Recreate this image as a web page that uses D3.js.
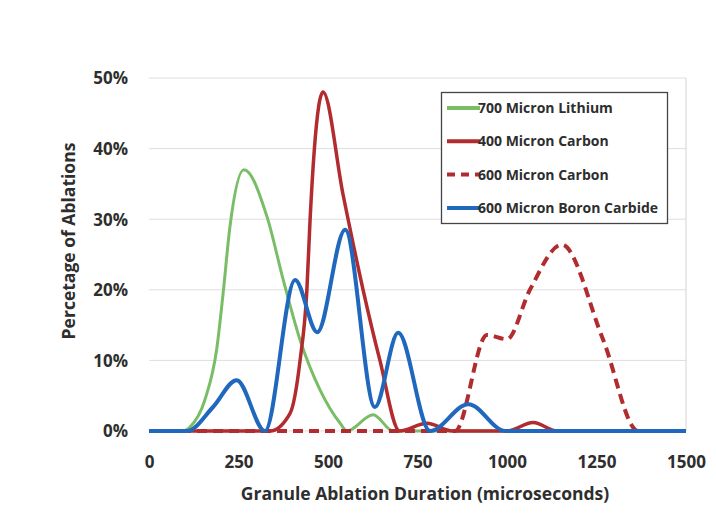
<!DOCTYPE html>
<html>
<head>
<meta charset="utf-8">
<script src="https://cdn.jsdelivr.net/npm/d3@7"></script>
<style>
  body { margin: 0; background: #fff; }
  text { font-family: "Open Sans", Lato, sans-serif; font-weight: bold; fill: #2e2e2e; }
</style>
</head>
<body>
<svg id="chart" width="716" height="527"></svg>
<script>
// values (duration in microseconds, share in %)
const xTicks = [0, 250, 500, 750, 1000, 1250, 1500];
const yTicks = [0, 10, 20, 30, 40, 50];

const lithiumX = [0, 95, 115, 156, 190, 207, 226, 265, 330, 375, 422, 478, 534, 553, 626, 682, 1500];
const lithiumY = [0, 0, 0.6, 4.4, 11.9, 19.5, 28.9, 37, 30.3, 21.4, 12.9, 5.8, 1.1, 0, 2.3, 0, 0];

const carbon400X = [0, 338, 394, 422, 441, 450, 462, 486, 542, 598, 645, 700, 776, 848, 1000, 1073, 1140, 1500];
const carbon400Y = [0, 0, 2.5, 10, 20, 30, 40, 48, 33.5, 20, 10, 0, 1.1, 0, 0, 1.2, 0, 0];

const carbon600X = [0, 855, 944, 1000, 1064, 1153, 1268, 1366, 1500];
const carbon600Y = [0, 0, 13.6, 13, 20, 26.4, 13, 0, 0];

const boronX = [0, 106, 179, 245, 324, 408, 470, 548, 631, 696, 785, 892, 995, 1500];
const boronY = [0, 0, 3.4, 7.2, 0, 21.4, 14, 28.5, 3.4, 13.9, 0, 3.8, 0, 0];

const seriesNames = ["700 Micron Lithium", "400 Micron Carbon", "600 Micron Carbon", "600 Micron Boron Carbide"];

const series = [
  {name: seriesNames[0], xs: lithiumX, ys: lithiumY, color: "#79bd67", width: 3, dash: null},
  {name: seriesNames[1], xs: carbon400X, ys: carbon400Y, color: "#b22b2e", width: 3.5, dash: null},
  {name: seriesNames[2], xs: carbon600X, ys: carbon600Y, color: "#b22b2e", width: 4, dash: "10,6"},
  {name: seriesNames[3], xs: boronX, ys: boronY, color: "#1f68bd", width: 4, dash: null}
];

const svg = d3.select("#chart");

const x = d3.scaleLinear().domain([0, 1500]).range([149, 686]);
const y = d3.scaleLinear().domain([0, 50]).range([431, 78]);

// grid
svg.append("g")
  .selectAll("line")
  .data(yTicks)
  .join("line")
    .attr("x1", x(0))
    .attr("x2", x(1500))
    .attr("y1", d => y(d))
    .attr("y2", d => y(d))
    .style("stroke", "#dedede")
    .style("stroke-width", 1);

svg.append("line")
  .attr("x1", x(1500)).attr("x2", x(1500))
  .attr("y1", y(50)).attr("y2", y(0))
  .style("stroke", "#d4d4d4");

// axes
const yAxis = svg.append("g")
  .attr("transform", `translate(${x(0)},0)`)
  .call(d3.axisLeft(y).tickValues(yTicks).tickFormat(d => d + "%").tickSize(0).tickPadding(21));
yAxis.select(".domain").remove();
yAxis.selectAll("text").style("font-size", "17px").attr("dy", "0.35em");

const xAxis = svg.append("g")
  .attr("transform", `translate(0,${y(0)})`)
  .call(d3.axisBottom(x).tickValues(xTicks).tickFormat(d3.format("d")).tickSize(0).tickPadding(27));
xAxis.select(".domain").remove();
xAxis.selectAll("text").style("font-size", "17px").attr("dy", "0.6em");

svg.append("text")
  .attr("x", 425)
  .attr("y", 500)
  .attr("text-anchor", "middle")
  .style("font-size", "17.5px")
  .text("Granule Ablation Duration (microseconds)");

svg.append("text")
  .attr("transform", "translate(75,241) rotate(-90)")
  .attr("text-anchor", "middle")
  .style("font-size", "17.5px")
  .text("Percetage of Ablations");

// lines
const line = d3.line()
  .x(d => x(d[0]))
  .y(d => y(d[1]))
  .curve(d3.curveMonotoneX);

svg.append("g")
  .selectAll("path")
  .data(series)
  .join("path")
    .attr("d", s => line(d3.zip(s.xs, s.ys)))
    .style("fill", "none")
    .style("stroke", s => s.color)
    .style("stroke-width", s => s.width)
    .style("stroke-dasharray", s => s.dash)
    .style("stroke-linejoin", "round");

// legend
const legend = svg.append("g");
legend.append("rect")
  .attr("x", 441.5).attr("y", 92.5)
  .attr("width", 226).attr("height", 131)
  .style("fill", "#fff")
  .style("stroke", "#444")
  .style("stroke-width", 1.3);

const rows = legend.selectAll(".row")
  .data(series)
  .join("g")
    .attr("class", "row")
    .attr("transform", (d, i) => `translate(0,${108 + i * 33.3})`);

rows.append("line")
  .attr("x1", 447).attr("x2", 480)
  .attr("y1", 0).attr("y2", 0)
  .style("stroke", d => d.color)
  .style("stroke-width", 4)
  .style("stroke-dasharray", d => d.dash ? "8,6" : null);

rows.append("text")
  .attr("x", 478)
  .attr("y", 5)
  .style("font-size", "14px")
  .text(d => d.name);
</script>
</body>
</html>
